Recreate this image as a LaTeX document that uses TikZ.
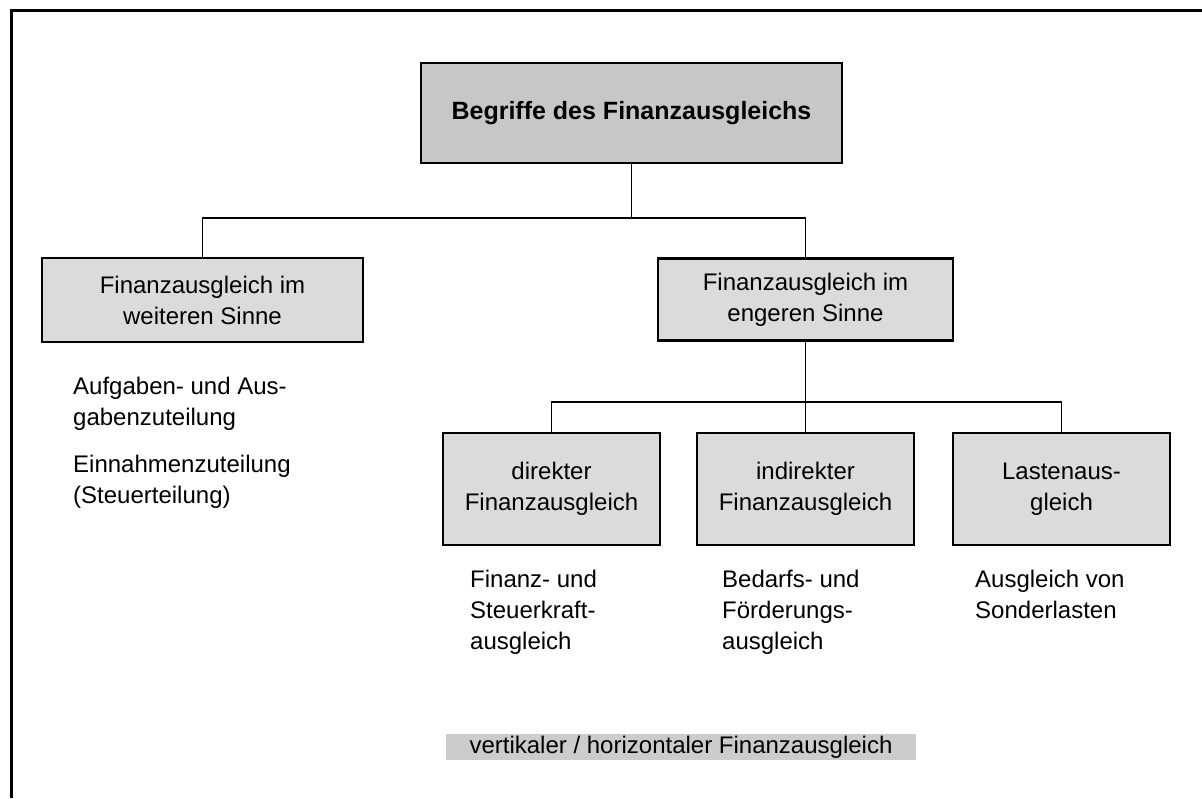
\documentclass[tikz,border=0pt]{standalone}
\usepackage{fontspec}
\setmainfont{Liberation Sans}
\usetikzlibrary{positioning}

\tikzset{
  box/.style={draw, line width=2.6pt, fill=black!14, align=center, inner sep=0pt,
    font=\fontsize{24}{31}\selectfont},
  conn/.style={line width=1.7pt},
  note/.style={anchor=north west, align=left, inner sep=0pt,
    font=\fontsize{24}{31}\selectfont}
}

\begin{document}
\begin{tikzpicture}[x=1pt, y=-1pt]
	\useasboundingbox (0,0) rectangle (1202,798);
	\draw[line width=3pt] (11.5,798) -- (11.5,10.5) -- (1202,10.5);

	\node[box, line width=2pt, fill=black!22, minimum width=421pt, minimum height=100pt,
	  font=\fontsize{25}{30}\selectfont\bfseries] (top) at (631.5,113) {Begriffe des Finanzausgleichs};
	\node[box, minimum width=321pt, minimum height=84pt] (weit) at (202.5,300) {Finanzausgleich im\\weiteren Sinne};
	\node[box, minimum width=295pt, minimum height=82pt] (eng) at (805.5,299.5) {Finanzausgleich im\\engeren Sinne};

	\node[box, minimum width=217pt, minimum height=112pt] (indirekt) [below of=eng, node distance=189.5pt] {indirekter\\Finanzausgleich};
	\node[box, minimum width=217pt, minimum height=112pt] (direkt) [left of=indirekt, node distance=254pt] {direkter\\Finanzausgleich};
	\node[box, minimum width=217pt, minimum height=112pt] (lasten) [right of=indirekt, node distance=256pt] {Lastenaus-\\gleich};

	\coordinate (j1) at (631.5,218);
	\coordinate (j2) at (805.5,402);

	\draw[conn] (top) -- (j1);
	\draw[conn] (weit) |- (j1) -| (eng);
	\draw[conn] (eng) -- (j2);
	\draw[conn] (indirekt) -- (j2);
	\draw[conn] (direkt) |- (j2) -| (lasten);

	\node[note] (aufg) at (73,377) {Aufgaben- und Aus-\\gabenzuteilung};
	\node[note] (einn) at (73,455) {Einnahmenzuteilung\\(Steuerteilung)};
	\node[note] (fin) at (470,570) {Finanz- und\\Steuerkraft-\\ausgleich};
	\node[note] (bed) at (722,570) {Bedarfs- und\\Förderungs-\\ausgleich};
	\node[note] (sond) at (975,570) {Ausgleich von\\Sonderlasten};

	\node[fill=black!20, inner sep=0pt, minimum width=470pt, minimum height=26pt,
	  font=\fontsize{24}{26}\selectfont] (vert) at (681,747) {vertikaler / horizontaler Finanzausgleich};
\end{tikzpicture}
\end{document}
